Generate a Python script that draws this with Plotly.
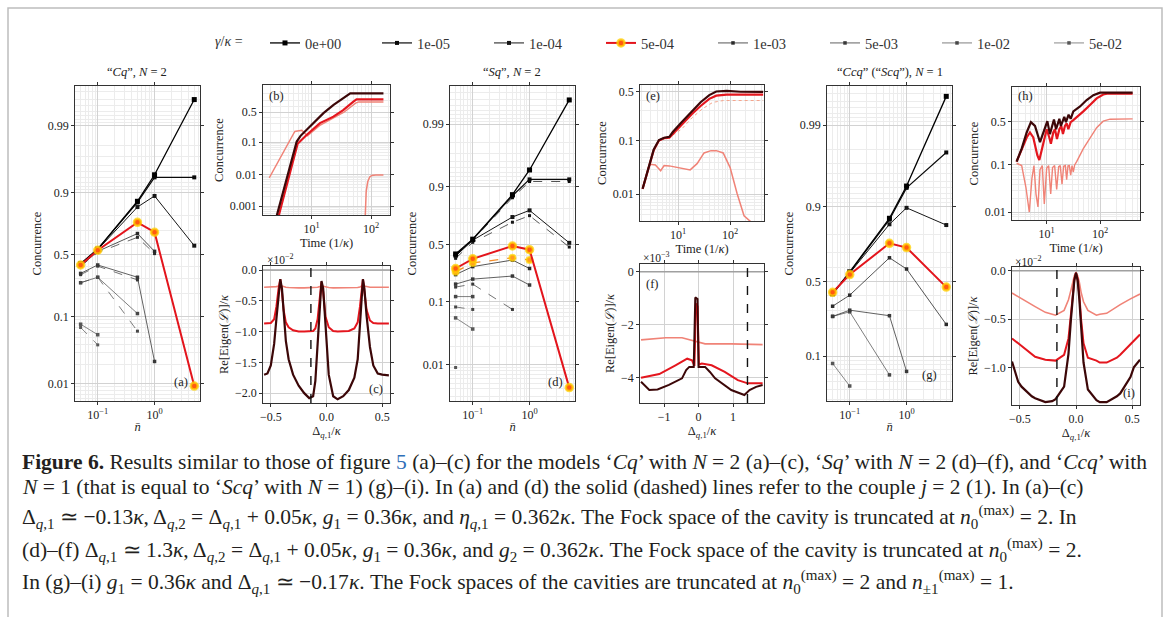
import numpy as np
import plotly.graph_objects as go

W, H = 1171, 617
FONT = "Liberation Serif"
TXT = "#222222"

# ------------------------------------------------------------------ data
GAMMA_LABELS = ["0e+00", "1e-05", "1e-04", "5e-04", "1e-03", "5e-03", "1e-02", "5e-02"]
NBAR = [0.05, 0.1, 0.5, 1.0, 5.0]
nan = float("nan")

# (a) "Cq", N=2  -- solid (j=2) and dashed (j=1) concurrence per gamma
CQ_SOLID = [
    [0.42, 0.55, 0.87, 0.945, 0.996],
    [0.42, 0.55, 0.865, 0.94, 0.94],
    [0.415, 0.545, 0.845, 0.89, 0.58],
    [0.41, 0.54, 0.76, 0.69, 0.0093],
    [0.40, 0.53, 0.68, 0.53, nan],
    [0.34, 0.41, 0.31, 0.022, nan],
    [0.27, 0.31, 0.11, nan, nan],
    [0.078, 0.055, nan, nan, nan],
]
CQ_DASHED = [
    None, None, None, None,
    [0.40, 0.52, 0.65, 0.51, nan],
    [0.33, 0.40, 0.29, nan, nan],
    [0.27, 0.31, 0.062, nan, nan],
    [0.07, 0.039, nan, nan, nan],
]
# (d) "Sq", N=2
SQ_SOLID = [
    [0.41, 0.55, 0.87, 0.945, 0.996],
    [0.40, 0.545, 0.865, 0.923, 0.923],
    [0.39, 0.54, 0.74, 0.786, 0.515],
    [0.285, 0.366, 0.485, 0.45, 0.0042],
    [0.24, 0.30, 0.355, 0.285, nan],
    [0.18, 0.21, 0.23, 0.175, nan],
    [0.12, 0.12, nan, nan, nan],
    [0.057, 0.038, nan, nan, nan],
]
SQ_DASHED = [
    None,
    [0.40, 0.54, 0.856, 0.917, 0.917],
    [0.37, 0.52, 0.70, 0.75, 0.475],
    [0.26, 0.33, 0.375, 0.355, nan],
    None,
    [0.164, 0.18, 0.077, nan, nan],
    [0.084, 0.077, nan, nan, nan],
    [0.009, nan, nan, nan, nan],
]
# (g) "Ccq" ("Scq"), N=1
CCQ_SOLID = [
    [0.41, 0.57, 0.865, 0.943, 0.9957],
    [0.41, 0.565, 0.86, 0.94, 0.978],
    [0.42, 0.56, 0.843, 0.897, 0.84],
    [0.42, 0.55, 0.754, 0.73, 0.458],
    [0.325, 0.40, 0.667, 0.59, 0.22],
    [0.263, 0.30, 0.267, 0.066, nan],
    [0.263, 0.29, 0.06, nan, nan],
    [0.082, 0.044, nan, nan, nan],
]

# (b) concurrence vs time
B_T_DARK = [2.5, 4.0, 5.6, 6.5, 8.3, 11.0, 15.8, 23.4, 34.7, 44.7, 60, 162]
B_C_DARK = [0.0004, 0.011, 0.104, 0.15, 0.216, 0.33, 0.483, 0.632, 0.735, 0.80, 0.80, 0.80]
B_T_RED = [2.7, 4.2, 5.8, 8.3, 13.8, 23.2, 34, 50.5, 57, 162]
B_C_RED = [0.0004, 0.009, 0.09, 0.16, 0.31, 0.42, 0.54, 0.686, 0.72, 0.72]
B_T_LIGHT = [1.93, 3.0, 4.2, 5.2, 6.8, 8.5, 14, 23, 35, 55, 62, 162]
B_C_LIGHT = [0.008, 0.036, 0.105, 0.196, 0.21, 0.15, 0.28, 0.39, 0.50, 0.66, 0.68, 0.68]
B_T_PINK = [78, 80, 83, 88, 95, 103, 120, 162]
B_C_PINK = [1e-6, 0.0005, 0.003, 0.006, 0.0085, 0.0095, 0.0098, 0.0099]

# (c) Re eigenvalues (x 1e-2) vs detuning
C_D = [-0.56, -0.53, -0.50, -0.47, -0.45, -0.43, -0.415, -0.40, -0.385, -0.365,
       -0.34, -0.30, -0.25, -0.20, -0.155, -0.12, -0.10, -0.08, -0.06, -0.045,
       -0.03, -0.01, 0.02, 0.06, 0.10, 0.15, 0.20, 0.25, 0.28, 0.30,
       0.315, 0.327, 0.34, 0.36, 0.39, 0.42, 0.46, 0.50, 0.56]
C_DARK = [-1.70, -1.68, -1.55, -1.20, -0.80, -0.35, -0.15, -0.30, -0.70, -1.15,
          -1.45, -1.70, -1.88, -2.00, -2.08, -2.05, -1.80, -1.20, -0.50, -0.18,
          -0.30, -0.90, -1.70, -2.05, -2.10, -2.05, -1.95, -1.75, -1.45, -0.90,
          -0.35, -0.15, -0.30, -0.75, -1.25, -1.55, -1.68, -1.70, -1.71]
C_RED = [-0.87, -0.87, -0.86, -0.80, -0.60, -0.30, -0.15, -0.35, -0.65, -0.85,
         -0.93, -0.98, -1.00, -1.00, -1.00, -0.99, -0.95, -0.80, -0.45, -0.20,
         -0.35, -0.75, -0.93, -0.99, -1.00, -1.00, -0.99, -0.95, -0.85, -0.60,
         -0.30, -0.15, -0.35, -0.65, -0.82, -0.86, -0.87, -0.87, -0.87]
C_LIGHT = [-0.28, -0.28, -0.28, -0.28, -0.27, -0.26, -0.25, -0.26, -0.27, -0.28,
           -0.285, -0.29, -0.29, -0.29, -0.29, -0.29, -0.285, -0.28, -0.27, -0.26,
           -0.265, -0.275, -0.285, -0.29, -0.29, -0.29, -0.29, -0.29, -0.285, -0.275,
           -0.26, -0.25, -0.26, -0.27, -0.28, -0.28, -0.28, -0.28, -0.28]
ZERO_D = [-0.6, 0.6]
ZERO_F = [-2.0, 2.0]
ZERO_V = [0.0, 0.0]

# (e)
E_T_DARK = [2.09, 2.71, 3.41, 4.30, 5.41, 6.81, 7.94, 11.6, 18.5, 27.1, 39.8, 54.1, 85.7, 158, 430]
E_C_DARK = [0.0127, 0.032, 0.069, 0.102, 0.112, 0.116, 0.14, 0.20, 0.295, 0.382, 0.46, 0.50, 0.507, 0.497, 0.495]
E_T_RED = [2.09, 2.71, 3.41, 4.30, 5.41, 6.81, 7.94, 11.6, 18.5, 27.1, 39.8, 54.1, 85.7, 430]
E_C_RED = [0.0125, 0.031, 0.067, 0.10, 0.11, 0.112, 0.13, 0.179, 0.267, 0.343, 0.418, 0.453, 0.464, 0.464]
E_T_DOT = [2.09, 2.71, 3.41, 4.30, 7.94, 11.6, 18.5, 29.3, 46.4, 73.5, 430]
E_C_DOT = [0.0125, 0.031, 0.066, 0.098, 0.125, 0.155, 0.235, 0.315, 0.38, 0.40, 0.40]
E_T_LIGHT = [2.09, 2.71, 2.93, 3.68, 4.64, 5.41, 6.81, 11.6, 17.1, 23.2, 31.6, 43, 54.1, 73.5, 100, 136, 185, 251, 430]
E_C_LIGHT = [0.0127, 0.032, 0.037, 0.036, 0.028, 0.035, 0.0345, 0.031, 0.029, 0.038, 0.060, 0.066,
             0.066, 0.06, 0.032, 0.0103, 0.0038, 0.0029, 0.0029]

# (f) Re eigenvalues (x 1e-3)
F_D_DARK = [-1.67, -1.43, -1.19, -0.86, -0.48, -0.36, -0.27, -0.14, -0.095, -0.03, 0.0, 0.19, 0.33, 0.48, 0.95, 1.33, 1.48, 1.67, 1.86]
F_DARK = [-4.15, -4.46, -4.44, -4.27, -4.02, -3.71, -3.59, -3.59, -0.97, -1.03, -3.59, -3.59, -3.78, -4.02, -4.46, -4.65, -4.46, -4.34, -4.27]
F_D_RED = [-1.67, -1.14, -0.67, -0.33, -0.19, -0.12, -0.076, -0.03, 0.01, 0.095, 0.38, 0.76, 1.14, 1.43, 1.86]
F_RED = [-4.0, -3.86, -3.53, -3.28, -3.34, -3.55, -1.2, -1.3, -3.5, -3.46, -3.53, -3.78, -4.09, -4.21, -4.21]
F_D_LIGHT = [-1.67, -0.95, -0.48, -0.14, 0.0, 0.19, 0.95, 1.86]
F_LIGHT = [-2.57, -2.49, -2.49, -2.62, -2.66, -2.72, -2.72, -2.75]

# (h)
H_T_DARK = [2.73, 3.40, 4.22, 5.07, 6.04, 7.5, 10.3, 11.5, 13.7, 15.0, 17.3, 18.5, 21.4, 23.0, 25.8, 28.2,
            31.6, 42.2, 56.2, 75, 100, 409]
H_C_DARK = [0.116, 0.203, 0.367, 0.496, 0.447, 0.261, 0.508, 0.348, 0.529, 0.406, 0.537, 0.447, 0.562, 0.496,
            0.59, 0.537, 0.629, 0.685, 0.751, 0.795, 0.815, 0.815]
H_T_RED = [2.73, 3.40, 4.22, 4.86, 5.61, 6.68, 7.28, 8.06, 10, 11.2, 12.0, 13.3, 14.3, 15.6, 17.3, 18.8, 20.2,
           22.0, 23.7, 25.5, 28.2, 31.6, 39.3, 48.7, 64.9, 86.5, 115, 143, 409]
H_C_RED = [0.116, 0.19, 0.31, 0.367, 0.31, 0.154, 0.125, 0.19, 0.406, 0.31, 0.246, 0.367, 0.406, 0.294, 0.406,
           0.447, 0.348, 0.447, 0.479, 0.406, 0.496, 0.52, 0.57, 0.629, 0.702, 0.767, 0.80, 0.808, 0.808]
H_T_LIGHT = [2.73, 3.40, 4.09, 4.72, 5.30, 5.78, 6.31, 6.87, 7.5, 8.28, 9.03, 10, 10.9, 11.9, 12.9, 14.1, 15.4,
             16.8, 18.0, 19.4, 20.8, 22.4, 23.7, 25.1, 26.6, 28.2, 29.9, 31.6, 33.5, 36.5, 48.7, 64.9, 86.5,
             115, 154, 409]
H_C_LIGHT = [0.108, 0.097, 0.034, 0.010, 0.054, 0.097, 0.0246, 0.0129, 0.080, 0.097, 0.015, 0.086, 0.097,
             0.0246, 0.089, 0.097, 0.031, 0.092, 0.097, 0.040, 0.094, 0.097, 0.050, 0.096, 0.097, 0.062,
             0.097, 0.072, 0.10, 0.116, 0.203, 0.31, 0.426, 0.508, 0.533, 0.537]

# (i) Re eigenvalues (x 1e-2)
I_D = [-0.57, -0.515, -0.485, -0.394, -0.364, -0.273, -0.212, -0.182, -0.106, -0.067, -0.045, -0.03, -0.015,
       0.0, 0.015, 0.03, 0.045, 0.067, 0.106, 0.182, 0.212, 0.273, 0.364, 0.394, 0.485, 0.515, 0.57]
I_DARK = [-0.94, -1.15, -1.20, -1.30, -1.32, -1.36, -1.35, -1.33, -1.20, -0.86, -0.50, -0.30, -0.10,
          -0.02, -0.10, -0.30, -0.60, -0.95, -1.23, -1.34, -1.36, -1.36, -1.30, -1.27, -1.10, -1.00, -0.92]
I_RED = [-0.70, -0.75, -0.78, -0.86, -0.89, -0.92, -0.93, -0.93, -0.87, -0.70, -0.45, -0.25, -0.09,
         -0.02, -0.09, -0.25, -0.50, -0.75, -0.90, -0.93, -0.95, -0.95, -0.90, -0.87, -0.76, -0.72, -0.66]
I_LIGHT = [-0.23, -0.27, -0.29, -0.35, -0.37, -0.43, -0.45, -0.46, -0.41, -0.30, -0.20, -0.12, -0.05,
           -0.02, -0.05, -0.12, -0.22, -0.32, -0.41, -0.46, -0.45, -0.44, -0.37, -0.35, -0.29, -0.27, -0.24]

# detuning of the working point (dashed verticals) for (c), (f), (i)
DELTA_WORK = [-0.14, 1.42, -0.17]

LOGIT_TICKS_BIG = [0.01, 0.1, 0.5, 0.9, 0.99]
LOGIT_TICKS_B = [0.001, 0.01, 0.1, 0.5]
LOGIT_TICKS_SMALL = [0.01, 0.1, 0.5]


# ------------------------------------------------------------------ helpers
def logit(v):
    a = np.array(v, dtype=float)
    return np.log(a / (1.0 - a))


def dx(x0, x1):
    return [x0 / W, x1 / W]


def dy(y0, y1):
    return [1 - y1 / H, 1 - y0 / H]


def px(x):
    return x / W


def py(y):
    return 1 - y / H


MINOR_C = ([k * 1e-4 for k in range(2, 10)] + [k * 1e-3 for k in range(2, 10)] +
           [k * 1e-2 for k in range(2, 10)] + [0.2, 0.3, 0.4, 0.6, 0.7, 0.8] +
           [1 - k * 1e-2 for k in range(2, 10)] + [1 - k * 1e-3 for k in range(2, 10)])
MINOR_LOG = [k * 10.0 ** e for e in range(-2, 4) for k in range(2, 10)]

GRID = "#d2d2d2"
MGRID = "#ececec"


def base_axis(standoff=3, **kw):
    d = dict(showline=True, linecolor="#333333", linewidth=0.8, mirror="ticks",
             ticks="outside", ticklen=3, tickwidth=0.8, tickcolor="#333333",
             showgrid=True, gridcolor=GRID, gridwidth=0.7, zeroline=False,
             tickfont=dict(family=FONT, size=12, color=TXT),
             title=dict(font=dict(family=FONT, size=12.5, color=TXT), standoff=standoff))
    for k, v in kw.items():
        if k == "title_text":
            d["title"]["text"] = v
        else:
            d[k] = v
    return d


def logit_axis(domain, anchor, rng, ticks, title="Concurrence"):
    return base_axis(domain=domain, anchor=anchor, range=rng, tickmode="array",
                     tickvals=list(logit(ticks)), ticktext=[str(t) for t in ticks],
                     minor=dict(tickmode="array", tickvals=list(logit(MINOR_C)), showgrid=True,
                                gridcolor=MGRID, gridwidth=0.6, ticks=""),
                     title_text=title)


def log_axis(domain, anchor, rng, tickvals, ticktext, title):
    return base_axis(standoff=0, domain=domain, anchor=anchor, type="log", range=rng, tickmode="array",
                     tickvals=tickvals, ticktext=ticktext,
                     minor=dict(tickmode="array", tickvals=MINOR_LOG, showgrid=True,
                                gridcolor=MGRID, gridwidth=0.6, ticks=""),
                     title_text=title)


def lin_axis(domain, anchor, rng, tickvals, fmt, title, standoff=3):
    return base_axis(standoff=standoff, domain=domain, anchor=anchor, range=rng, tickmode="array",
                     tickvals=tickvals, tickformat=fmt, title_text=title)


fig = go.Figure()


def add(ax, x, y, **kw):
    xa = "x" if ax == 1 else "x%d" % ax
    ya = "y" if ax == 1 else "y%d" % ax
    kw.setdefault("showlegend", False)
    kw.setdefault("hoverinfo", "skip")
    fig.add_trace(go.Scatter(x=x, y=y, xaxis=xa, yaxis=ya, **kw))


GSTYLE = [
    dict(color="#000000", width=1.3, ms=5),
    dict(color="#0a0a0a", width=1.2, ms=4),
    dict(color="#161616", width=1.0, ms=4),
    dict(color="#e3141c", width=2.0, ms=7),
    dict(color="#2a2a2a", width=0.8, ms=3.5),
    dict(color="#383838", width=0.8, ms=3.5),
    dict(color="#474747", width=0.7, ms=3.5),
    dict(color="#565656", width=0.7, ms=3.5),
]


def big_panel(ax, solid, dashed, legend=False):
    order = [7, 6, 5, 4, 2, 1, 0, 3]
    for k in order:
        st = GSTYLE[k]
        if dashed is not None and dashed[k] is not None:
            if k == 3:
                add(ax, NBAR, logit(dashed[k]), mode="lines+markers",
                    line=dict(color="#f28c28", width=1.3, dash="dash"),
                    marker=dict(symbol="circle", size=6, color="#ff9a1f",
                                line=dict(color="rgba(255,214,0,0.7)", width=2)))
            else:
                add(ax, NBAR, logit(dashed[k]), mode="lines+markers",
                    line=dict(color=st["color"], width=0.7, dash="dash"),
                    marker=dict(symbol="square", size=3, color=st["color"]))
        if k == 3:
            mk = dict(symbol="circle", size=st["ms"], color="#ff5a10",
                      line=dict(color="rgba(255,210,0,0.75)", width=2.5))
        else:
            mk = dict(symbol="square", size=st["ms"], color=st["color"])
        add(ax, NBAR, logit(solid[k]), mode="lines+markers",
            line=dict(color=st["color"], width=st["width"]), marker=mk,
            name=GAMMA_LABELS[k], showlegend=legend, legendrank=k + 1)


# ------------------------------------------------------------------ panels
big_panel(1, CQ_SOLID, CQ_DASHED, legend=True)   # (a)
big_panel(4, SQ_SOLID, SQ_DASHED)                # (d)
big_panel(7, CCQ_SOLID, None)                    # (g)

DARK = "#3c0708"
RED = "#e4161e"
LIGHT = "#f08377"

# (b)
add(2, B_T_PINK, logit(B_C_PINK), mode="lines", line=dict(color=LIGHT, width=1.5))
add(2, B_T_LIGHT, logit(B_C_LIGHT), mode="lines", line=dict(color=LIGHT, width=1.4))
add(2, B_T_RED, logit(B_C_RED), mode="lines", line=dict(color=RED, width=2.2))
add(2, B_T_DARK, logit(B_C_DARK), mode="lines", line=dict(color=DARK, width=2.2))

# (c)
add(3, ZERO_D, ZERO_V, mode="lines", line=dict(color="#a0a0a0", width=1.5))
add(3, C_D, C_LIGHT, mode="lines", line=dict(color=LIGHT, width=1.6))
add(3, C_D, C_RED, mode="lines", line=dict(color=RED, width=2.0))
add(3, C_D, C_DARK, mode="lines", line=dict(color=DARK, width=2.2))

# (e)
add(5, E_T_LIGHT, logit(E_C_LIGHT), mode="lines", line=dict(color=LIGHT, width=1.5))
add(5, E_T_DOT, logit(E_C_DOT), mode="lines", line=dict(color="#f4a48c", width=1.0, dash="dot"))
add(5, E_T_RED, logit(E_C_RED), mode="lines", line=dict(color=RED, width=2.2))
add(5, E_T_DARK, logit(E_C_DARK), mode="lines", line=dict(color=DARK, width=2.2))

# (f)
add(6, ZERO_F, ZERO_V, mode="lines", line=dict(color="#a0a0a0", width=1.5))
add(6, F_D_LIGHT, F_LIGHT, mode="lines", line=dict(color=LIGHT, width=1.6))
add(6, F_D_RED, F_RED, mode="lines", line=dict(color=RED, width=2.0))
add(6, F_D_DARK, F_DARK, mode="lines", line=dict(color=DARK, width=2.0))

# (h)
add(8, H_T_LIGHT, logit(H_C_LIGHT), mode="lines", line=dict(color=LIGHT, width=1.4))
add(8, H_T_RED, logit(H_C_RED), mode="lines", line=dict(color=RED, width=2.2))
add(8, H_T_DARK, logit(H_C_DARK), mode="lines", line=dict(color=DARK, width=2.2))

# (i)
add(9, ZERO_D, ZERO_V, mode="lines", line=dict(color="#a0a0a0", width=1.5))
add(9, I_D, I_LIGHT, mode="lines", line=dict(color=LIGHT, width=1.6))
add(9, I_D, I_RED, mode="lines", line=dict(color=RED, width=2.0))
add(9, I_D, I_DARK, mode="lines", line=dict(color=DARK, width=2.2))

# ------------------------------------------------------------------ axes
NB_T = "<i>n̄</i>"
TIME_T = "Time (1/<i>κ</i>)"
DEL_T = "Δ<sub><i>q</i>,1</sub>/<i>κ</i>"
EIG_T = "Re[Eigen(<i>ℒ</i>)]/<i>κ</i>"
NB_TICKS = dict(tickvals=[0.1, 1.0], ticktext=["10<sup>−1</sup>", "10<sup>0</sup>"])
T_TICKS = dict(tickvals=[10, 100], ticktext=["10<sup>1</sup>", "10<sup>2</sup>"])

BIG_Y = (86, 401)
layout_axes = {}
# (a)
layout_axes["xaxis"] = log_axis(dx(75, 200), "y", [-1.40, 0.80], title=NB_T, **NB_TICKS)
layout_axes["yaxis"] = logit_axis(dy(*BIG_Y), "x", [-5.2, 6.0], LOGIT_TICKS_BIG)
# (b)
layout_axes["xaxis2"] = log_axis(dx(263, 390), "y2", [0.18, 2.32], title=TIME_T, **T_TICKS)
layout_axes["yaxis2"] = logit_axis(dy(85, 215), "x2", [-7.55, 2.0], LOGIT_TICKS_B)
# (c)
layout_axes["xaxis3"] = lin_axis(dx(263, 390), "y3", [-0.57, 0.57], [-0.5, 0.0, 0.5], ".1f", DEL_T, 0)
layout_axes["yaxis3"] = lin_axis(dy(266, 403), "x3", [-2.16, 0.065], [0.0, -0.5, -1.0, -1.5, -2.0], ".1f", EIG_T)
# (d)
layout_axes["xaxis4"] = log_axis(dx(450, 575), "y4", [-1.40, 0.80], title=NB_T, **NB_TICKS)
layout_axes["yaxis4"] = logit_axis(dy(*BIG_Y), "x4", [-5.98, 6.05], LOGIT_TICKS_BIG)
# (e)
layout_axes["xaxis5"] = log_axis(dx(640, 764), "y5", [0.27, 2.65], title=TIME_T, **T_TICKS)
layout_axes["yaxis5"] = logit_axis(dy(85, 221), "x5", [-5.8, 0.29], LOGIT_TICKS_SMALL)
# (f)
layout_axes["xaxis6"] = lin_axis(dx(640, 764), "y6", [-1.7, 1.9], [-1, 0, 1], "d", DEL_T, 0)
layout_axes["yaxis6"] = lin_axis(dy(264, 403), "x6", [-4.95, 0.29], [0, -2, -4], "d", EIG_T)
# (g)
layout_axes["xaxis7"] = log_axis(dx(827, 952), "y7", [-1.40, 0.80], title=NB_T, **NB_TICKS)
layout_axes["yaxis7"] = logit_axis(dy(*BIG_Y), "x7", [-3.52, 5.75], LOGIT_TICKS_BIG[1:])
# (h)
layout_axes["xaxis8"] = log_axis(dx(1012, 1140), "y8", [0.35, 2.75], title=TIME_T, **T_TICKS)
layout_axes["yaxis8"] = logit_axis(dy(87, 220), "x8", [-5.0, 1.77], LOGIT_TICKS_SMALL)
# (i)
layout_axes["xaxis9"] = lin_axis(dx(1012, 1140), "y9", [-0.57, 0.57], [-0.5, 0.0, 0.5], ".1f", DEL_T, 0)
layout_axes["yaxis9"] = lin_axis(dy(267, 405), "x9", [-1.39, 0.04], [0.0, -0.5, -1.0], ".1f", EIG_T)

# ------------------------------------------------------------------ shapes
shapes = []
for ax, d0 in zip((3, 6, 9), DELTA_WORK):
    shapes.append(dict(type="line", xref="x%d" % ax, yref="y%d domain" % ax, x0=d0, x1=d0, y0=0, y1=1,
                       line=dict(color="#111111", width=1.4, dash="dash")))
shapes.append(dict(type="rect", xref="paper", yref="paper", x0=px(8), x1=px(1162), y0=py(640), y1=py(8),
                   line=dict(color="#bdbdbd", width=1.5), fillcolor="rgba(0,0,0,0)", layer="below"))

# ------------------------------------------------------------------ annotations
ann = []


def text(x, y, s, size=12, xanchor="center", yanchor="middle", **kw):
    ann.append(dict(x=px(x), y=py(y), xref="paper", yref="paper", text=s, showarrow=False,
                    xanchor=xanchor, yanchor=yanchor,
                    font=dict(family=FONT, size=size, color=kw.pop("color", TXT)), **kw))


text(213, 42, "<i>γ</i>/<i>κ</i> =", 14, xanchor="left", color="#333333")
text(137, 72, "“<i>Cq</i>”, <i>N</i> = 2", 12.5)
text(512, 72, "“<i>Sq</i>”, <i>N</i> = 2", 12.5)
text(890, 72, "“<i>Ccq</i>” (“<i>Scq</i>”), <i>N</i> = 1", 12.5)

for lab, x, y, xa in [("(a)", 190, 382, "right"), ("(b)", 267, 96, "left"), ("(c)", 385, 389, "right"),
                      ("(d)", 565, 382, "right"), ("(e)", 644, 96, "left"), ("(f)", 644, 284, "left"),
                      ("(g)", 939, 375, "right"), ("(h)", 1016, 96, "left"), ("(i)", 1137, 393, "right")]:
    text(x, y, lab, 12.5, xanchor=xa)

text(265, 259, "×10<sup>−2</sup>", 11.5, xanchor="left")
text(641, 257, "×10<sup>−3</sup>", 11.5, xanchor="left")
text(1013, 261, "×10<sup>−2</sup>", 11.5, xanchor="left")

CAP = 21.5
kap = "<i>κ</i>"
dq1 = "Δ<sub><i>q</i>,1</sub>"
dq2 = "Δ<sub><i>q</i>,2</sub>"
n0 = "<i>n</i><sub>0</sub><sup>(max)</sup>"
caption = [
    (462, "<b>Figure 6.</b> Results similar to those of figure <span style='color:#2f6fb8'>5</span> (a)–(c) "
          "for the models ‘<i>Cq</i>’ with <i>N</i> = 2 (a)–(c), ‘<i>Sq</i>’ with <i>N</i> = 2 (d)–(f), "
          "and ‘<i>Ccq</i>’ with"),
    (487, "<i>N</i> = 1 (that is equal to ‘<i>Scq</i>’ with <i>N</i> = 1) (g)–(i). In (a) and (d) the solid "
          "(dashed) lines refer to the couple <i>j</i> = 2 (1). In (a)–(c)"),
    (517, dq1 + " ≃ −0.13" + kap + ", " + dq2 + " = " + dq1 + " + 0.05" + kap + ", <i>g</i><sub>1</sub> = 0.36"
          + kap + ", and <i>η</i><sub><i>q</i>,1</sub> = 0.362" + kap
          + ". The Fock space of the cavity is truncated at " + n0 + " = 2. In"),
    (550, "(d)–(f) " + dq1 + " ≃ 1.3" + kap + ", " + dq2 + " = " + dq1 + " + 0.05" + kap
          + ", <i>g</i><sub>1</sub> = 0.36" + kap + ", and <i>g</i><sub>2</sub> = 0.362" + kap
          + ". The Fock space of the cavity is truncated at " + n0 + " = 2."),
    (582, "In (g)–(i) <i>g</i><sub>1</sub> = 0.36" + kap + " and " + dq1 + " ≃ −0.17" + kap
          + ". The Fock spaces of the cavities are truncated at " + n0 + " = 2 and "
          "<i>n</i><sub>±1</sub><sup>(max)</sup> = 1."),
]
for y, s in caption:
    text(20, y, s, CAP, xanchor="left", color="#231f20")

fig.update_layout(
    width=W, height=H, margin=dict(l=0, r=0, t=0, b=0, autoexpand=False),
    paper_bgcolor="white", plot_bgcolor="white",
    font=dict(family=FONT, size=12, color=TXT),
    shapes=shapes, annotations=ann,
    legend=dict(orientation="h", x=px(265), y=py(27), xanchor="left", yanchor="top",
                font=dict(family=FONT, size=14.5, color="#333333"),
                entrywidth=67, entrywidthmode="pixels", itemwidth=30,
                bgcolor="rgba(0,0,0,0)", itemsizing="trace", tracegroupgap=0),
    **layout_axes,
)

fig.write_html("out.html")
